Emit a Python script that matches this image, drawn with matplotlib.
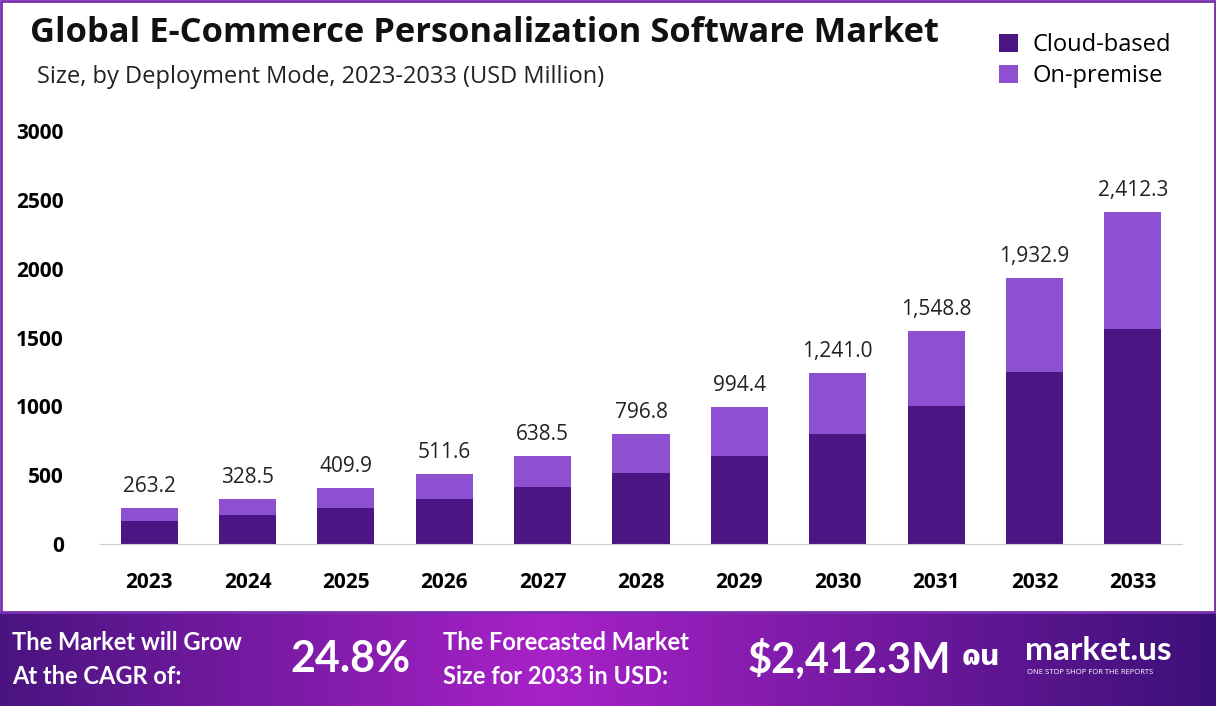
import numpy as np
import matplotlib.pyplot as plt
from matplotlib.patches import Rectangle

years = ["2023", "2024", "2025", "2026", "2027", "2028", "2029", "2030", "2031", "2032", "2033"]
totals = [263.2, 328.5, 409.9, 511.6, 638.5, 796.8, 994.4, 1241.0, 1548.8, 1932.9, 2412.3]
cloud = [170, 212, 264, 330, 412, 514, 642, 801, 1000, 1249, 1561]
on_premise = [t - c for t, c in zip(totals, cloud)]
total_labels = ["263.2", "328.5", "409.9", "511.6", "638.5", "796.8", "994.4",
                "1,241.0", "1,548.8", "1,932.9", "2,412.3"]
yticks = [0, 500, 1000, 1500, 2000, 2500, 3000]

dark = "#4b1583"
light = "#8e4fd0"
plt.rcParams["font.family"] = ["Open Sans", "DejaVu Sans"]

fig = plt.figure(figsize=(12.16, 7.06), dpi=100)

# footer gradient
fax = fig.add_axes([0, 0, 1, 94 / 706])
fax.set_axis_off()
xs = np.linspace(0, 1, 400)
r = np.interp(xs, [0, 0.45, 1], [0x4a, 0xa8, 0x3c]) / 255
g = np.interp(xs, [0, 0.45, 1], [0x14, 0x22, 0x10]) / 255
b = np.interp(xs, [0, 0.45, 1], [0x80, 0xc8, 0x78]) / 255
grad = np.stack([r, g, b], axis=1)[None, :, :]
fax.imshow(grad, aspect="auto", extent=[0, 1, 0, 1])
fax.set_xlim(0, 1); fax.set_ylim(0, 1)
ft = "Lato"
fig.text(12 / 1216, 63 / 706, "The Market will Grow", color="white", fontsize=17, fontweight="bold", va="center", family=ft)
fig.text(12 / 1216, 29 / 706, "At the CAGR of:", color="white", fontsize=17, fontweight="bold", va="center", family=ft)
fig.text(290 / 1216, 47 / 706, "24.8%", color="white", fontsize=31, fontweight="bold", va="center", family=ft)
fig.text(443 / 1216, 63 / 706, "The Forecasted Market", color="white", fontsize=17, fontweight="bold", va="center", family=ft)
fig.text(443 / 1216, 29 / 706, "Size for 2033 in USD:", color="white", fontsize=17, fontweight="bold", va="center", family=ft)
fig.text(748 / 1216, 47 / 706, "$2,412.3M", color="white", fontsize=30, fontweight="bold", va="center", family=ft)
fig.text(962 / 1216, 49 / 706, "ɷu", color="white", fontsize=20, fontweight="bold", va="center", family="DejaVu Sans")
fig.text(1025 / 1216, 55 / 706, "market.us", color="white", fontsize=24, fontweight="bold", va="center", family=ft)
fig.text(1027 / 1216, 34 / 706, "ONE STOP SHOP FOR THE REPORTS", color="white", fontsize=5.5, va="center")

# purple frame around the chart area
fig.patches.append(Rectangle((1 / 1216, 94 / 706), 1214 / 1216, 611 / 706, transform=fig.transFigure,
                             fill=False, edgecolor="#7a2fb0", linewidth=2))

ax = fig.add_axes([100 / 1216, 162 / 706, 1082 / 1216, 413 / 706])
x = np.arange(len(years))
ax.bar(x, cloud, width=0.58, color=dark, label="Cloud-based")
ax.bar(x, on_premise, width=0.58, bottom=cloud, color=light, label="On-premise")
for xi, t, lab in zip(x, totals, total_labels):
    ax.text(xi, t + 80, lab, ha="center", va="bottom", fontsize=15, color="#222222")
ax.set_xlim(-0.5, len(years) - 0.5)
ax.set_ylim(0, 3000)
ax.set_yticks(yticks)
ax.set_yticklabels([str(v) for v in yticks], fontsize=15, fontweight="bold")
ax.set_xticks(x)
ax.set_xticklabels(years, fontsize=15, fontweight="bold")
ax.tick_params(length=0)
ax.tick_params(axis="y", pad=26)
ax.tick_params(axis="x", pad=20)
for s in ["top", "right", "left"]:
    ax.spines[s].set_visible(False)
ax.spines["bottom"].set_color("#cccccc")

fig.text(30 / 1216, 1 - 33 / 706, "Global E-Commerce Personalization Software Market",
         fontsize=24.8, fontweight="bold", va="center", color="#111111")
fig.text(37 / 1216, 1 - 77 / 706, "Size, by Deployment Mode, 2023-2033 (USD Million)",
         fontsize=17, va="center", color="#222222")
fig.legend(loc="upper right", bbox_to_anchor=(1192 / 1216, 1 - 12 / 706), frameon=False,
           fontsize=17, handlelength=0.8, handleheight=0.8, labelspacing=0.3, handletextpad=0.6)

fig.savefig("out.png", dpi=100)
